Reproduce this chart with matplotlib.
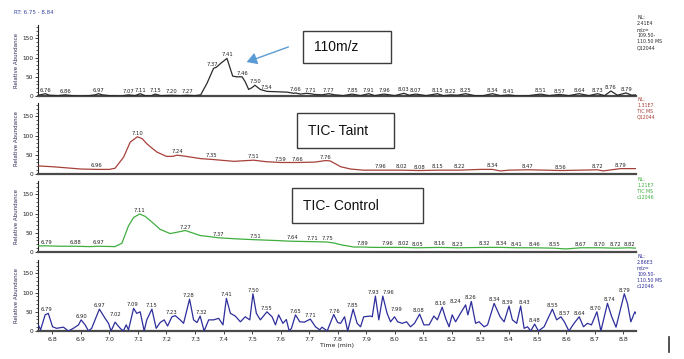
import numpy as np
import matplotlib
matplotlib.use("Agg")
import matplotlib.pyplot as plt
from matplotlib.patches import Rectangle, FancyArrowPatch
from matplotlib.lines import Line2D
from matplotlib.ticker import MultipleLocator, FormatStrFormatter

# ---------------- data ----------------
trace_110 = [(6.75, 2), (6.765, 4), (6.775, 6), (6.79, 2), (6.82, 1), (6.845, 3), (6.87, 1), (6.90, 0),
             (6.93, 1), (6.95, 3), (6.962, 6), (6.975, 3), (7.00, 1), (7.04, 0), (7.067, 3), (7.09, 1),
             (7.108, 6), (7.125, 1), (7.145, 0), (7.16, 5), (7.18, 1), (7.219, 2), (7.25, 1), (7.272, 2),
             (7.30, 1), (7.32, 3), (7.342, 33), (7.365, 72), (7.375, 75), (7.39, 85), (7.412, 98),
             (7.432, 52), (7.445, 50), (7.465, 50), (7.476, 37), (7.488, 17), (7.50, 22), (7.51, 28),
             (7.529, 17), (7.552, 12), (7.59, 11), (7.623, 10), (7.646, 7), (7.652, 8), (7.67, 5),
             (7.69, 7), (7.704, 6), (7.72, 4), (7.745, 3), (7.769, 6), (7.79, 3), (7.82, 1), (7.85, 5),
             (7.88, 1), (7.909, 6), (7.93, 1), (7.962, 5), (8.00, 1), (8.032, 7), (8.05, 2), (8.073, 5),
             (8.11, 1), (8.149, 6), (8.17, 1), (8.196, 3), (8.22, 2), (8.248, 6), (8.28, 1), (8.31, 1),
             (8.342, 6), (8.37, 1), (8.40, 3), (8.43, 0), (8.47, 1), (8.511, 5), (8.54, 1), (8.576, 4),
             (8.61, 1), (8.646, 6), (8.68, 1), (8.71, 6), (8.735, 1), (8.757, 13), (8.78, 2), (8.81, 8),
             (8.83, 2), (8.845, 3)]

trace_taint = [(6.75, 21), (6.80, 19), (6.85, 16), (6.90, 13), (6.956, 12), (7.00, 12), (7.02, 15),
               (7.05, 44), (7.073, 83), (7.098, 97), (7.115, 92), (7.131, 79), (7.15, 67), (7.167, 57),
               (7.20, 46), (7.222, 46), (7.237, 49), (7.26, 47), (7.32, 40), (7.359, 38), (7.436, 33),
               (7.505, 36), (7.55, 32), (7.599, 30), (7.66, 30), (7.72, 31), (7.757, 35), (7.774, 34),
               (7.81, 19), (7.845, 13), (7.89, 10), (7.95, 10), (8.024, 10), (8.087, 9), (8.149, 10),
               (8.225, 10), (8.30, 12), (8.342, 12), (8.37, 8), (8.40, 10), (8.465, 11), (8.53, 10),
               (8.582, 9), (8.65, 10), (8.71, 11), (8.73, 8), (8.76, 11), (8.79, 14), (8.845, 14)]

trace_control = [(6.75, 16), (6.78, 16), (6.83, 15), (6.88, 15), (6.93, 14), (6.962, 15), (7.02, 14),
                 (7.044, 23), (7.067, 68), (7.085, 90), (7.106, 99), (7.125, 93), (7.143, 82),
                 (7.178, 59), (7.213, 48), (7.24, 52), (7.266, 56), (7.29, 50), (7.318, 43),
                 (7.383, 37), (7.45, 34), (7.511, 32), (7.58, 30), (7.64, 28), (7.71, 27), (7.763, 26),
                 (7.79, 23), (7.81, 19), (7.856, 13), (7.886, 13), (7.926, 12), (7.973, 12), (8.03, 12),
                 (8.079, 11), (8.155, 12), (8.221, 11), (8.313, 12), (8.373, 12), (8.427, 11),
                 (8.488, 11), (8.558, 10), (8.60, 8), (8.652, 11), (8.716, 11), (8.774, 10),
                 (8.821, 11), (8.845, 10)]

trace_noise = [(6.751, 16), (6.759, 3), (6.775, 42), (6.786, 46), (6.801, 11), (6.815, 7), (6.839, 10),
               (6.851, 3), (6.856, 0), (6.874, 7), (6.892, 16), (6.901, 29), (6.915, 16), (6.927, 0),
               (6.938, 7), (6.965, 57), (6.985, 33), (6.997, 20), (7.006, 0), (7.020, 23), (7.038, 7),
               (7.049, 0), (7.059, 16), (7.067, 3), (7.085, 59), (7.096, 46), (7.108, 50), (7.122, 0),
               (7.131, 29), (7.149, 57), (7.164, 7), (7.178, 22), (7.192, 29), (7.204, 13), (7.219, 37),
               (7.231, 40), (7.248, 29), (7.260, 20), (7.281, 83), (7.295, 29), (7.307, 22), (7.318, 39),
               (7.332, 0), (7.348, 29), (7.365, 29), (7.383, 33), (7.398, 16), (7.410, 85), (7.424, 46),
               (7.441, 39), (7.459, 24), (7.476, 37), (7.492, 29), (7.503, 97), (7.515, 46), (7.529, 29),
               (7.552, 50), (7.570, 37), (7.582, 16), (7.593, 42), (7.608, 20), (7.620, 30), (7.630, 0),
               (7.638, 7), (7.652, 42), (7.667, 24), (7.683, 23), (7.704, 31), (7.722, 11), (7.737, 3),
               (7.745, 10), (7.763, 0), (7.786, 43), (7.800, 22), (7.810, 20), (7.824, 37), (7.835, 0),
               (7.854, 57), (7.868, 20), (7.880, 11), (7.891, 37), (7.915, 39), (7.921, 37), (7.932, 91),
               (7.944, 29), (7.958, 91), (7.973, 46), (7.985, 24), (7.999, 37), (8.010, 24), (8.026, 20),
               (8.041, 24), (8.055, 11), (8.069, 20), (8.087, 44), (8.102, 16), (8.120, 16), (8.137, 39),
               (8.149, 29), (8.166, 62), (8.178, 33), (8.190, 11), (8.201, 42), (8.213, 24), (8.230, 46),
               (8.248, 68), (8.256, 42), (8.268, 77), (8.283, 20), (8.295, 24), (8.313, 11), (8.325, 16),
               (8.348, 72), (8.369, 37), (8.383, 24), (8.400, 65), (8.412, 29), (8.427, 20), (8.441, 65),
               (8.453, 7), (8.465, 11), (8.476, 0), (8.490, 18), (8.503, 0), (8.523, 11), (8.552, 57),
               (8.567, 29), (8.582, 37), (8.594, 24), (8.610, 0), (8.628, 20), (8.646, 37), (8.661, 11),
               (8.675, 20), (8.689, 16), (8.708, 50), (8.722, 0), (8.745, 72), (8.760, 37), (8.775, 10),
               (8.804, 97), (8.815, 72), (8.827, 24), (8.841, 50), (8.848, 42)]

labels_110 = [(6.775, "6.76"), (6.845, "6.86"), (6.962, "6.97"), (7.067, "7.07"), (7.108, "7.11"),
              (7.16, "7.15"), (7.219, "7.20"), (7.272, "7.27"), (7.36, "7.37"), (7.412, "7.41"),
              (7.467, "7.46"), (7.511, "7.50"), (7.552, "7.54"), (7.652, "7.66"), (7.704, "7.71"),
              (7.769, "7.77"), (7.85, "7.85"), (7.909, "7.91"), (7.962, "7.96"), (8.032, "8.03"),
              (8.073, "8.07"), (8.149, "8.15"), (8.196, "8.22"), (8.248, "8.25"), (8.342, "8.34"),
              (8.40, "8.41"), (8.511, "8.51"), (8.576, "8.57"), (8.646, "8.64"), (8.71, "8.73"),
              (8.757, "8.76"), (8.81, "8.79")]

labels_taint = [(6.956, "6.96"), (7.098, "7.10"), (7.237, "7.24"), (7.359, "7.35"), (7.505, "7.51"),
                (7.599, "7.59"), (7.66, "7.66"), (7.757, "7.76"), (7.95, "7.96"), (8.024, "8.02"),
                (8.087, "8.08"), (8.149, "8.15"), (8.225, "8.22"), (8.342, "8.34"), (8.465, "8.47"),
                (8.582, "8.56"), (8.71, "8.72"), (8.79, "8.79")]

labels_control = [(6.78, "6.79"), (6.88, "6.88"), (6.962, "6.97"), (7.106, "7.11"), (7.266, "7.27"),
                  (7.383, "7.37"), (7.511, "7.51"), (7.64, "7.64"), (7.71, "7.71"), (7.763, "7.75"),
                  (7.886, "7.89"), (7.973, "7.96"), (8.03, "8.02"), (8.079, "8.05"), (8.155, "8.16"),
                  (8.221, "8.23"), (8.313, "8.32"), (8.373, "8.34"), (8.427, "8.41"), (8.488, "8.46"),
                  (8.558, "8.55"), (8.652, "8.67"), (8.716, "8.70"), (8.774, "8.72"), (8.821, "8.82")]

labels_noise = [(6.78, "6.79"), (6.901, "6.90"), (6.965, "6.97"), (7.020, "7.02"), (7.082, "7.09"),
                (7.149, "7.15"), (7.219, "7.23"), (7.277, "7.28"), (7.324, "7.32"), (7.410, "7.41"),
                (7.506, "7.50"), (7.552, "7.55"), (7.652, "7.65"), (7.704, "7.71"), (7.790, "7.76"),
                (7.850, "7.85"), (7.924, "7.93"), (7.979, "7.96"), (8.005, "7.99"), (8.084, "8.08"),
                (8.160, "8.16"), (8.213, "8.24"), (8.266, "8.26"), (8.348, "8.34"), (8.394, "8.39"),
                (8.453, "8.43"), (8.488, "8.48"), (8.552, "8.55"), (8.593, "8.57"), (8.646, "8.64"),
                (8.704, "8.70"), (8.751, "8.74"), (8.804, "8.79")]

info_110 = "NL:\n2.41E4\nm/z=\n109.50-\n110.50 MS\nQ12044"
info_taint = "NL:\n1.31E7\nTIC MS\nQ12044"
info_control = "NL:\n1.21E7\nTIC MS\nc12046"
info_noise = "NL:\n2.86E3\nm/z=\n109.50-\n110.50 MS\nc12046"

box_titles = ["110m/z", "TIC- Taint", "TIC- Control"]
x_range = (6.75, 8.845)
y_top = 185

# ---------------- figure ----------------
W, H = 684, 359
fig = plt.figure(figsize=(W / 100, H / 100), dpi=100)
fig.patch.set_facecolor("white")


def fx(px):
    return px / W


def fy(py):
    return 1 - py / H


# (trace, labels, info, line colour, baseline px, info colour, info top px, label search window)
panels = [
    (trace_110, labels_110, info_110, "#2b2b2b", 96, "#2b2b2b", 15, 0.012),
    (trace_taint, labels_taint, info_taint, "#a8403a", 174, "#a8403a", 97, 0.012),
    (trace_control, labels_control, info_control, "#3fae3f", 252, "#3fae3f", 177, 0.012),
    (trace_noise, labels_noise, info_noise, "#2e2e9c", 331, "#2e2e9c", 254, 0.036),
]

left_px, right_px, h_px = 38, 636, 71
for i, (trace, labels, info, color, base_px, icolor, info_y, win) in enumerate(panels):
    ax = fig.add_axes([fx(left_px), fy(base_px), (right_px - left_px) / W, h_px / H])
    t = np.array([p[0] for p in trace])
    v = np.array([p[1] for p in trace])
    ax.plot(t, v, color=color, lw=0.9, solid_joinstyle="round", zorder=3)
    ax.set_xlim(*x_range)
    ax.set_ylim(0, y_top)
    ax.patch.set_alpha(0)
    for s in ("top", "right"):
        ax.spines[s].set_visible(False)
    ax.spines["bottom"].set_linewidth(1.6)
    ax.spines["bottom"].set_color("#4a4a4a")
    ax.spines["left"].set_linewidth(0.8)
    ax.spines["left"].set_color("#222222")
    ax.yaxis.set_major_locator(MultipleLocator(50))
    ax.yaxis.set_minor_locator(MultipleLocator(10))
    ax.tick_params(axis="y", which="major", length=2.5, width=0.6, labelsize=4.2, pad=1, colors="#222222")
    ax.tick_params(axis="y", which="minor", length=1.3, width=0.5, colors="#222222")
    ax.set_ylabel("Relative Abundance", fontsize=4.0, color="#2a2a55", labelpad=2)
    if i < 3:
        ax.tick_params(axis="x", which="both", bottom=False, labelbottom=False)
    else:
        ax.xaxis.set_major_locator(MultipleLocator(0.1))
        ax.xaxis.set_major_formatter(FormatStrFormatter("%.1f"))
        ax.tick_params(axis="x", which="major", length=2.5, width=0.6, labelsize=4.5, pad=1.5, colors="#222222")
        ax.set_xlabel("Time (min)", fontsize=4.5, color="#222222", labelpad=1)
        ax.xaxis.set_label_coords(0.5, -0.17)
    for lt, txt in labels:
        near = (t >= lt - win) & (t <= lt + win)
        ly = v[near].max() if near.any() else np.interp(lt, t, v)
        ax.text(lt, ly + 2.5, txt, fontsize=3.8, ha="center", va="bottom", color="#222222", zorder=4)
    fig.text(fx(637), fy(info_y), info, fontsize=3.4, color=icolor, ha="left", va="top", linespacing=1.25)

fig.text(fx(14), fy(13), "RT: 6.75 - 8.84", fontsize=4.0, color="#3344a0", ha="left", va="center")

# annotation boxes
boxes = [(303, 31, 88, 32), (297, 113, 97, 35), (292, 188, 131, 35)]
for (bx, by, bw, bh), title in zip(boxes, box_titles):
    fig.patches.append(Rectangle((fx(bx), fy(by + bh)), bw / W, bh / H, transform=fig.transFigure,
                                 facecolor="white", edgecolor="#3c3c3c", lw=1.0, zorder=5))
    fig.text(fx(bx + 11), fy(by + bh / 2), title, fontsize=10, family="Liberation Sans",
             color="#111111", ha="left", va="center", zorder=6)

# arrow
fig.patches.append(FancyArrowPatch((fx(291), fy(46)), (fx(244), fy(63)), transform=fig.transFigure,
                                   arrowstyle="-|>,head_length=6,head_width=3.5", color="#5b9bd5",
                                   lw=1.0, zorder=6))

# stray vertical mark bottom-right
fig.lines.append(Line2D([fx(669), fx(669)], [fy(337), fy(352)], transform=fig.transFigure,
                        color="#333333", lw=1.2))

fig.savefig("out.png", dpi=100, facecolor="white")
